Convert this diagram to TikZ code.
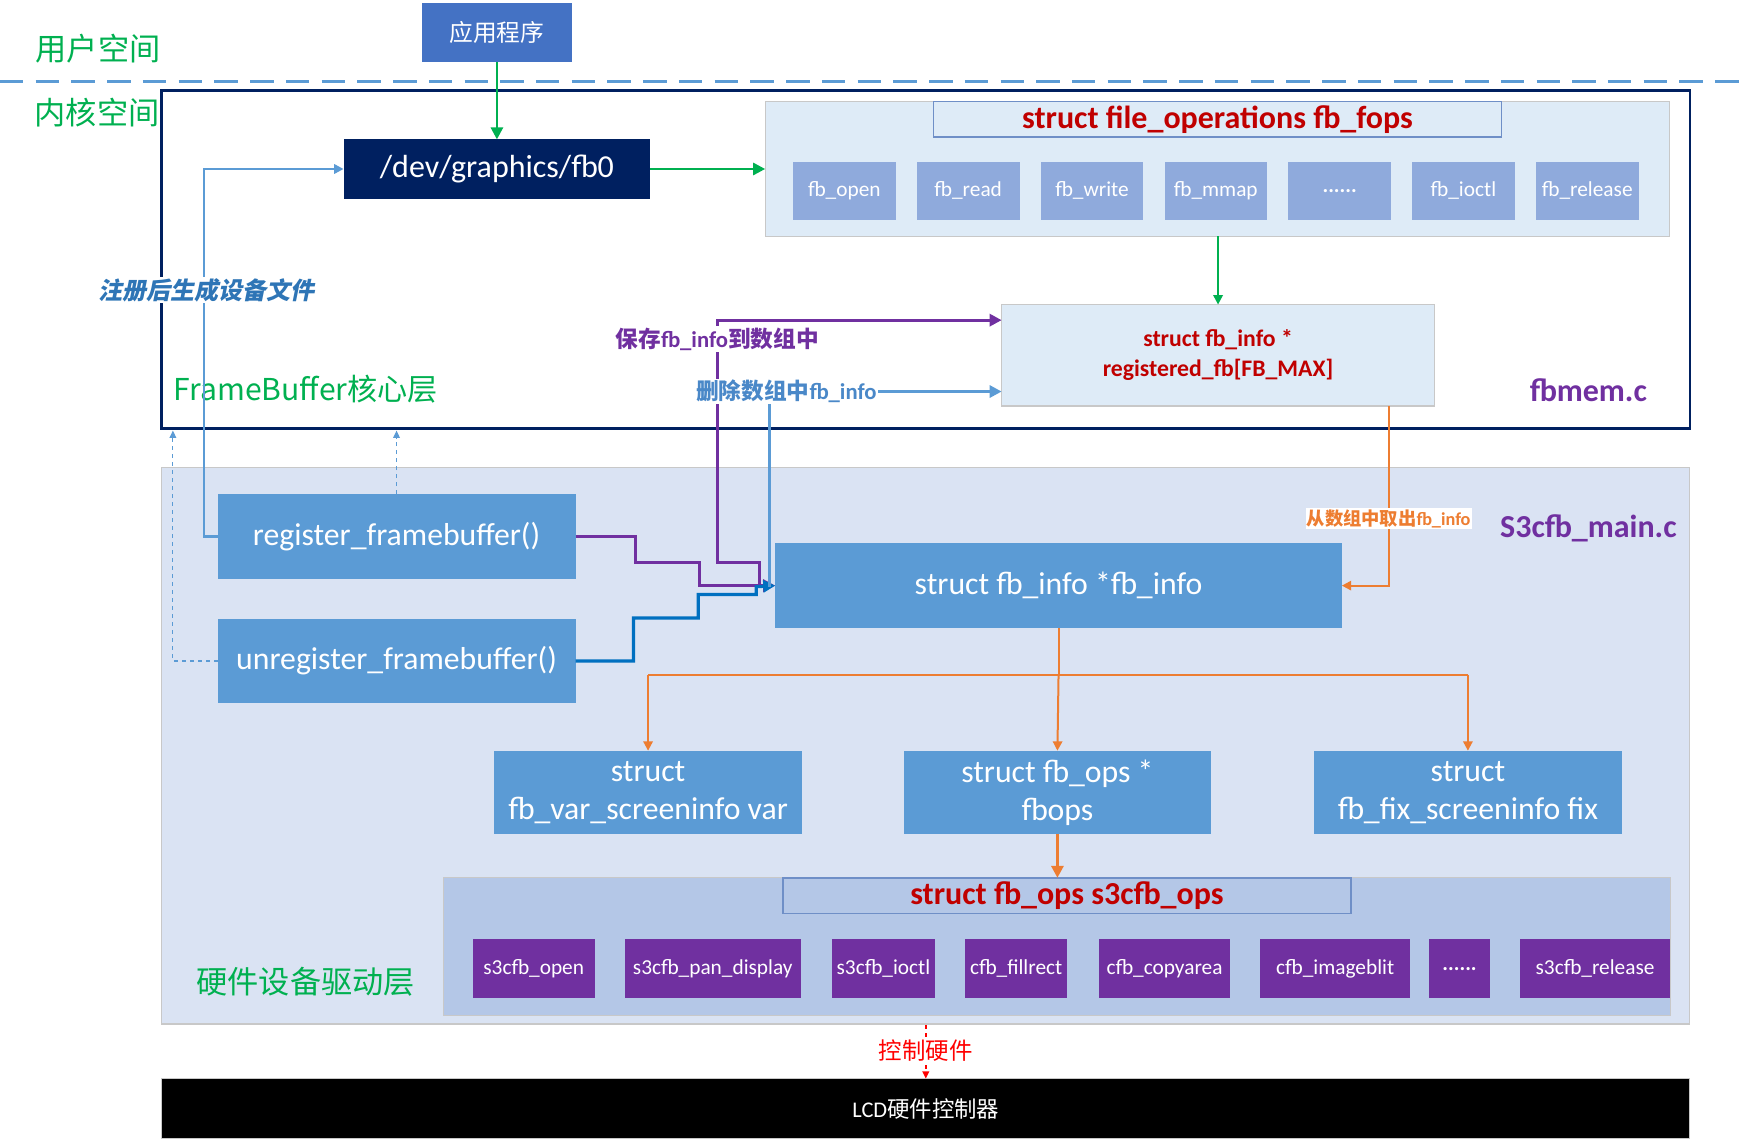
\documentclass[tikz,border=0pt]{standalone}
\usepackage{fontspec}
\setmainfont{Carlito}
\newfontfamily\cjk{Noto Sans CJK SC}
\newfontfamily\cjkit{Noto Sans CJK SC}[FakeSlant=0.2]
\usetikzlibrary{arrows.meta,calc}
\definecolor{cGreen}{HTML}{00B050}
\definecolor{cDash}{HTML}{5B9BD5}
\definecolor{cApp}{HTML}{4472C4}
\definecolor{cNavy}{HTML}{002060}
\definecolor{cPale}{HTML}{DEEBF7}
\definecolor{cItem}{HTML}{8FAADC}
\definecolor{cRed}{HTML}{C00000}
\definecolor{cPurp}{HTML}{7030A0}
\definecolor{cBox}{HTML}{5B9BD5}
\definecolor{cLow}{HTML}{DAE3F3}
\definecolor{cS3}{HTML}{B4C7E7}
\definecolor{cOrange}{HTML}{ED7D31}
\definecolor{cDBlue}{HTML}{0070C0}
\definecolor{cLBlue}{HTML}{5B9BD5}
\definecolor{cDelLbl}{HTML}{4A88C8}
\definecolor{cLabel}{HTML}{2E75B6}
\definecolor{cGray}{HTML}{C8C8C8}
\definecolor{cTitleB}{HTML}{6F8FC7}
\newcommand\fsbig{\fontsize{23.8pt}{28.4pt}\selectfont}
\newcommand\fsitem{\fontsize{16pt}{19pt}\selectfont}
\newcommand\fsreg{\fontsize{17.8pt}{22.6pt}\selectfont\bfseries}
\newcommand\fsfile{\fontsize{24pt}{28pt}\selectfont\bfseries}
\newcommand\fscjkbig{\fontsize{23.4pt}{28pt}\selectfont\cjk}
\begin{document}
\begin{tikzpicture}[x=0.8366pt,y=-0.8366pt,
  every node/.style={inner sep=0pt, outer sep=0pt},
  wh/.style 2 args={minimum width=#1*0.8366pt, minimum height=#2*0.8366pt},
  bluebox/.style={fill=cBox, text=white, font=\fsbig, align=center},
  fitem/.style={fill=cItem, text=white, font=\fsitem, wh={92}{52}},
  pitem/.style={fill=cPurp, text=white, font=\fsitem},
  tip/.style={-{Triangle[length=9pt,width=9pt]}},
  midtip/.style={-{Triangle[length=7pt,width=7pt]}},
  smalltip/.style={-{Triangle[length=5.5pt,width=5pt]}},
  lbl/.style={fill=white, inner sep=1pt}]
\useasboundingbox (0,0) rectangle (1568,1028);

% separator
\draw[cDash, line width=2pt, dash pattern=on 17.6pt off 9.2pt] (0,73) -- (1568,73);
\node[text=cGreen, font=\fscjkbig] (user) at (88,44) {用户空间};
\node[text=cGreen, font=\fscjkbig] (kern) at (87,101) {内核空间};

% containers
\node[fill=cLow, draw=cGray, line width=0.8pt, wh={1370}{499}] (low) at (830,668.5) {};
\node[draw=cNavy, line width=2pt, wh={1370}{303}] (outer) at (830,232.5) {};

% app and device file
\node[fill=cApp, text=white, font=\fontsize{17.8pt}{20pt}\selectfont\cjk, wh={135}{53}] (app) at (445.5,29.5) {应用程序};
\node[fill=cNavy, text=white, font=\fontsize{24pt}{28pt}\selectfont, wh={275}{53}] (fb0) at (445.5,151.5) {/dev/graphics/fb0};

% fops container
\node[fill=cPale, draw=cGray, line width=0.8pt, wh={811}{121}] (fops) at (1091.5,151.5) {};
\node[fill=cPale, draw=cTitleB, line width=1.2pt, text=cRed, font=\fsfile, wh={509}{32}] (fopst) at (1091.5,107) {struct file\_operations fb\_fops};
\node[fitem] (f1) at (757,171) {fb\_open};
\node[fitem] (f2) at (868,171) {fb\_read};
\node[fitem] (f3) at (979,171) {fb\_write};
\node[fitem] (f4) at (1090,171) {fb\_mmap};
\node[fitem, font=\fsitem\bfseries] (f5) at (1201,171) {......};
\node[fitem] (f6) at (1312,171) {fb\_ioctl};
\node[fitem] (f7) at (1423,171) {fb\_release};

% registered
\node[fill=cPale, draw=cGray, line width=0.8pt, text=cRed, font=\fsreg, align=center, wh={388}{91}] (reg) at (1092,318.5) {struct fb\_info *\\registered\_fb[FB\_MAX]};
\node[text=cPurp, font=\fsfile] (fbmem) at (1424,350) {fbmem.c};
\node[text=cGreen, font=\fontsize{22.6pt}{26pt}\selectfont\cjk] (fbcore) at (274,349) {FrameBuffer核心层};

% driver layer
\node[bluebox, wh={321}{76}] (regfb) at (355.5,481) {register\_framebuffer()};
\node[bluebox, wh={321}{75}] (unreg) at (355.5,592.5) {unregister\_framebuffer()};
\node[bluebox, wh={508}{76}] (fbinfo) at (949,525) {struct fb\_info *fb\_info};
\node[text=cPurp, font=\fsfile] (s3main) at (1424,474) {S3cfb\_main.c};
\node[bluebox, wh={276}{75}] (var) at (581,710.5) {struct\\fb\_var\_screeninfo var};
\node[bluebox, wh={276}{75}] (fbops) at (948,710.5) {struct fb\_ops *\\fbops};
\node[bluebox, wh={276}{75}] (fix) at (1316,710.5) {struct\\fb\_fix\_screeninfo fix};

\node[fill=cS3, draw=cGray, line width=0.8pt, wh={1100}{123}] (s3c) at (948,848.5) {};
\node[fill=cS3, draw=cTitleB, line width=1.2pt, text=cRed, font=\fsfile, wh={509}{32}] (s3t) at (956.5,803) {struct fb\_ops s3cfb\_ops};
\node[pitem, wh={109}{53}] (p1) at (478.5,868.5) {s3cfb\_open};
\node[pitem, wh={158}{53}] (p2) at (639,868.5) {s3cfb\_pan\_display};
\node[pitem, wh={92}{53}] (p3) at (792,868.5) {s3cfb\_ioctl};
\node[pitem, wh={92}{53}] (p4) at (911,868.5) {cfb\_fillrect};
\node[pitem, wh={118}{53}] (p5) at (1044,868.5) {cfb\_copyarea};
\node[pitem, wh={134}{53}] (p6) at (1197,868.5) {cfb\_imageblit};
\node[pitem, wh={55}{53}, font=\fsitem\bfseries] (p7) at (1308.5,868.5) {......};
\node[pitem, wh={134}{53}] (p8) at (1430,868.5) {s3cfb\_release};
\node[text=cGreen, font=\fscjkbig] (hwlayer) at (274,880) {硬件设备驱动层};

% LCD
\node[fill=black, draw=cGray, line width=0.8pt, text=white, font=\fontsize{16.8pt}{20pt}\selectfont, wh={1370}{54}] (lcd) at (830,994) {LCD{\cjk 硬件控制器}};

% ---- connectors ----
\draw[cGreen, line width=2pt, tip] (app.south) -- (fb0.north);
\draw[cGreen, line width=2pt, tip] (fb0.east) -- (fb0.east -| fops.west);
\draw[cGreen, line width=1.5pt, midtip] (fops.south -| reg.north) -- (reg.north);

% register -> fb0
\draw[cLBlue, line width=1.6pt, midtip] (regfb.west) -- ++(-12,0) |- (fb0.west);

% dashed up arrows
\coordinate (dl) at (155,386);
\draw[cLBlue, line width=0.9pt, dashed, smalltip] (regfb.north) -- (regfb.north |- dl);
\draw[cLBlue, line width=0.9pt, dashed, smalltip] (unreg.west) -| (dl);

% purple: register -> fb_info
\coordinate (pa) at (570,504);
\coordinate (pb) at (627,525);
\draw[cPurp, line width=2.4pt, tip] (regfb.east) -| (pa) -| (pb) -- (fbinfo.west);
% purple: fb_info -> registered
\coordinate (pc) at (681,525);
\coordinate (pd) at (643,504);
\coordinate (pe) at (700,287);
\draw[cPurp, line width=2.4pt, tip] (pc) |- (pd) |- (pe -| reg.west);
% dark blue: unregister -> fb_info
\coordinate (ba) at (568,554);
\coordinate (bb) at (626,533);
\coordinate (bc) at (678,526);
\draw[cDBlue, line width=2.4pt, tip] (unreg.east) -| (ba) -| (bb) -| (bc) -- (fbinfo.west);
% light blue: fb_info -> registered (delete)
\coordinate (la) at (690,526);
\coordinate (lb) at (690,351);
\draw[cLBlue, line width=2.4pt, tip] (la) -- (lb) -- (lb -| reg.west);

% orange: registered -> fb_info
\coordinate (oa) at (1245,364);
\draw[cOrange, line width=1.6pt, midtip] (oa) |- (fbinfo.east);
% orange tree
\coordinate (ta) at (581,605);
\coordinate (tb) at (1316,605);
\draw[cOrange, line width=1.5pt] (fbinfo.south) -- (fbinfo.south |- ta);
\draw[cOrange, line width=1.5pt] (ta) -- (tb);
\draw[cOrange, line width=1.5pt, midtip] (ta) -- (var.north);
\draw[cOrange, line width=1.5pt, midtip] (fbinfo.south |- ta) -- (fbops.north);
\draw[cOrange, line width=1.5pt, midtip] (tb) -- (fix.north);
\draw[cOrange, line width=2.5pt, tip] (fbops.south) -- (fbops.south |- s3c.north);

% control hardware
\coordinate (ca) at (830,919);
\draw[red, line width=1.5pt, dashed, smalltip] (ca) -- (lcd.north);

% ---- labels ----
\node[lbl, text=cLabel, font=\fontsize{18pt}{21pt}\selectfont\cjkit\bfseries] (regnote) at (185,260) {注册后生成设备文件};
\node[lbl, text=cPurp, font=\fontsize{17pt}{20pt}\selectfont\bfseries] (savelbl) at (643,304) {{\cjk 保存}fb\_info{\cjk 到数组中}};
\node[lbl, text=cDelLbl, font=\fontsize{17pt}{20pt}\selectfont\bfseries] (dellbl) at (705,351) {{\cjk 删除数组中}fb\_info};
\node[lbl, text=cOrange, font=\fontsize{13.7pt}{16pt}\selectfont\bfseries] (getlbl) at (1245,465) {{\cjk 从数组中取出}fb\_info};
\node[lbl, text=red, font=\fontsize{17.6pt}{20pt}\selectfont\cjk] (ctrl) at (830,942) {控制硬件};
\end{tikzpicture}
\end{document}
